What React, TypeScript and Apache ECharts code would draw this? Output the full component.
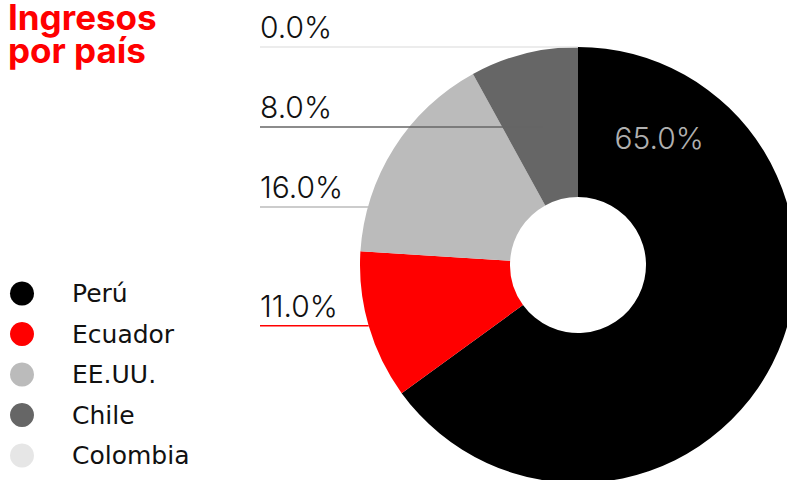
import React, { useEffect, useRef } from "react";
import * as echarts from "echarts";

// ---- data ----
const countries = ["Perú", "Ecuador", "EE.UU.", "Chile", "Colombia"];
const shares = [65, 11, 16, 8, 0];
const colors = ["#000000", "#ff0000", "#bbbbbb", "#666666", "#e6e6e6"];
const titleLines = ["Ingresos", "por país"];

// ---- layout (pixels) ----
const W = 787;
const H = 480;
const CX = 578;
const CY = 265;
const R = 218;
const R0 = 68;
const LABEL_X = 260;
const LABEL_GAP = 80;
const INSIDE_ANGLE = 32.5; // deg clockwise from 12 o'clock
const INSIDE_R = 151;
const TITLE_LINE_H = 33;

const rad = (d: number) => (d * Math.PI) / 180;

function computeLabelGeometry() {
  const total = shares.reduce((a, b) => a + b, 0);
  let acc = 0;
  const mids = shares.map((v) => {
    const s = acc;
    acc += (v / total) * 360;
    return (s + acc) / 2;
  });
  const natural = mids.map((m) => CY - R * Math.cos(rad(m)));
  const outer = shares.map((_, i) => i).filter((i) => i !== 0);
  outer.sort((a, b) => natural[a] - natural[b]);
  const lineY: number[] = [];
  const endX: number[] = [];
  let prev = -Infinity;
  outer.forEach((i) => {
    const y = Math.max(natural[i], prev + LABEL_GAP);
    prev = y;
    lineY[i] = y;
    const c = Math.cos(rad(mids[i]));
    let t = Math.abs(c) < 1e-6 ? R : (CY - y) / c;
    t = Math.max(R0, Math.min(R, t));
    endX[i] = CX + t * Math.sin(rad(mids[i]));
  });
  return { lineY, endX, outer };
}

export default function App() {
  const ref = useRef<HTMLDivElement>(null);
  useEffect(() => {
    document.body.style.margin = "0";
    if (!ref.current) return;
    const chart = echarts.init(ref.current, undefined, { renderer: "svg" });
    const { lineY, endX, outer } = computeLabelGeometry();
    const data = countries.map((name, i) => ({
      name,
      value: shares[i],
      itemStyle: { color: colors[i] },
      label: i === 0 ? { color: "#b0b0b0" } : { color: "#111111" },
    }));
    const connectors = outer.map((i) => ({
      type: "line",
      z: 10,
      silent: true,
      shape: { x1: LABEL_X, y1: lineY[i], x2: endX[i], y2: lineY[i] },
      style: { stroke: colors[i], lineWidth: 1.5 },
    }));
    chart.setOption({
      animation: false,
      title: titleLines.map((t, k) => ({
        text: t,
        left: 8,
        top: k * TITLE_LINE_H,
        padding: 0,
        textStyle: {
          color: "#ff0000",
          fontFamily: "Inter",
          fontWeight: "bold",
          fontSize: 35,
          lineHeight: TITLE_LINE_H,
        },
      })),
      legend: {
        orient: "vertical",
        left: 10,
        top: 281,
        padding: 0,
        icon: "circle",
        itemWidth: 24,
        itemHeight: 24,
        itemGap: 15.5,
        selectedMode: false,
        data: countries,
        textStyle: {
          fontFamily: "DejaVu Sans",
          fontSize: 25,
          color: "#111111",
          lineHeight: 24,
          padding: [0, 0, 0, 33],
        },
      },
      graphic: connectors,
      series: [
        {
          type: "pie",
          center: [CX, CY],
          radius: [R0, R],
          startAngle: 90,
          clockwise: true,
          avoidLabelOverlap: false,
          emphasis: { disabled: true },
          label: {
            show: true,
            position: "outside",
            fontFamily: "Inter",
            fontWeight: 300,
            fontSize: 30,
            formatter: (p: any) => Number(p.value).toFixed(1) + "%",
          },
          labelLine: { show: false },
          labelLayout: (params: any) => {
            const i = params.dataIndex;
            if (i === 0) {
              return {
                x: CX + INSIDE_R * Math.sin(rad(INSIDE_ANGLE)),
                y: CY - INSIDE_R * Math.cos(rad(INSIDE_ANGLE)),
                align: "center",
                verticalAlign: "middle",
              };
            }
            return {
              x: LABEL_X,
              y: lineY[i] - 5,
              align: "left",
              verticalAlign: "bottom",
            };
          },
          data,
        },
      ],
    });
    return () => chart.dispose();
  }, []);
  return <div ref={ref} style={{ width: W, height: H }} />;
}
